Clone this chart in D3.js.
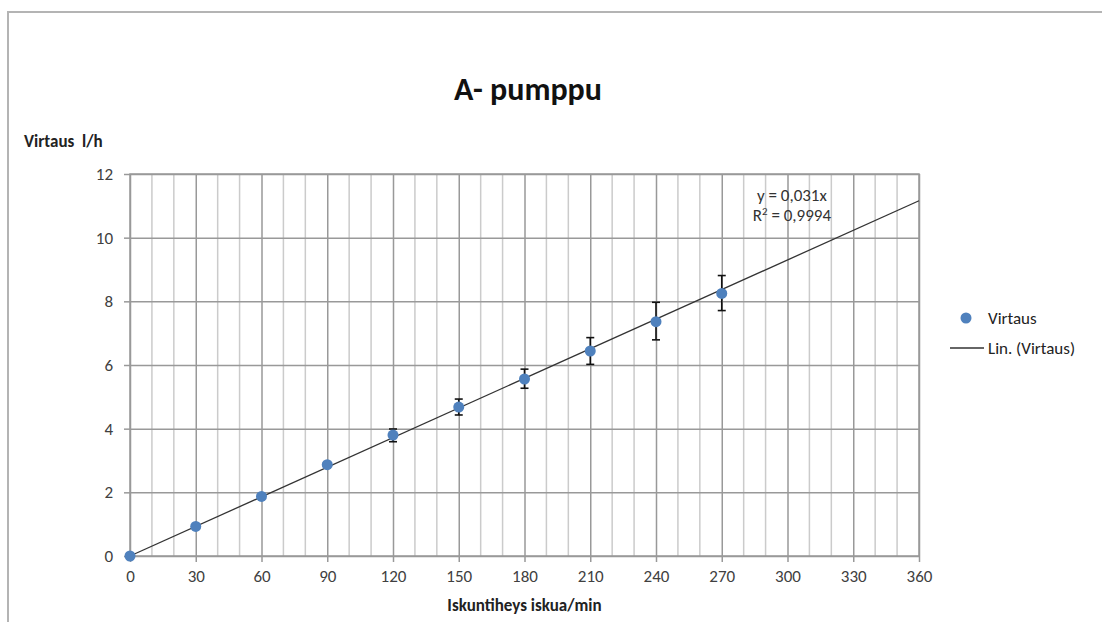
<!DOCTYPE html>
<html lang="fi">
<head>
<meta charset="UTF-8">
<title>A- pumppu</title>
<script src="https://d3js.org/d3.v7.min.js"></script>
<style>
  body { margin: 0; background: #fff; }
  svg text { font-family: Carlito, "Open Sans", "Liberation Sans", sans-serif; white-space: pre; }
  .tick text { fill: #404040; font-size: 17px; }
  .axis-label { font-weight: bold; font-size: 17px; fill: #222; }
</style>
</head>
<body>
<svg width="1102" height="622"></svg>
<script>
// data
var strokes = [0, 30, 60, 90, 120, 150, 180, 210, 240, 270];
var flow = [0, 0.93, 1.87, 2.87, 3.80, 4.68, 5.56, 6.44, 7.36, 8.25];
var errLow = [0, 0, 0, 0, 3.59, 4.43, 5.27, 6.02, 6.79, 7.71];
var errHigh = [0, 0, 0, 0, 3.99, 4.93, 5.87, 6.86, 7.97, 8.81];
var xTicks = [0, 30, 60, 90, 120, 150, 180, 210, 240, 270, 300, 330, 360];
var yTicks = [0, 2, 4, 6, 8, 10, 12];
var slope = 0.031;
var r2 = '0,9994';

var svg = d3.select('svg');
var margin = { left: 130, top: 174, right: 183, bottom: 66 };
var innerWidth = 1102 - margin.left - margin.right;
var innerHeight = 622 - margin.top - margin.bottom;

// outer chart frame
svg.append('path')
    .attr('d', 'M8,622 V12 H1102')
    .attr('fill', 'none')
    .attr('stroke', '#b4b4b4')
    .attr('stroke-width', 2);

svg.append('text')
    .attr('x', 528).attr('y', 100)
    .attr('text-anchor', 'middle')
    .style('font-weight', 'bold')
    .style('font-size', '32px')
    .attr('fill', '#111')
    .text('A- pumppu');

var g = svg.append('g')
    .attr('transform', `translate(${margin.left},${margin.top})`);

var x = d3.scaleLinear().domain([0, 360]).range([0, innerWidth]);
var y = d3.scaleLinear().domain([0, 12]).range([innerHeight, 0]);

// minor vertical grid every 10
g.append('g').selectAll('line')
    .data(d3.range(10, 360, 10).filter(d => d % 30 !== 0))
    .enter().append('line')
    .attr('x1', d => x(d)).attr('x2', d => x(d))
    .attr('y1', 0).attr('y2', innerHeight)
    .attr('stroke', '#cbcbcb').attr('stroke-width', 1.5);

var xAxis = d3.axisBottom(x).tickValues(xTicks).tickSize(-innerHeight).tickPadding(13);
var yAxis = d3.axisLeft(y).tickValues(yTicks).tickSize(-innerWidth).tickPadding(17);

var xAxisG = g.append('g').attr('transform', `translate(0,${innerHeight})`).call(xAxis);
var yAxisG = g.append('g').call(yAxis);

[xAxisG, yAxisG].forEach(a => {
    a.select('.domain').remove();
    a.selectAll('.tick line').attr('stroke', '#999').attr('stroke-width', 1.5);
});
// small outer tick marks
xAxisG.selectAll('.tick').append('line')
    .attr('y1', 0).attr('y2', 6).attr('stroke', '#999').attr('stroke-width', 1.5);
yAxisG.selectAll('.tick').append('line')
    .attr('x1', 0).attr('x2', -6).attr('stroke', '#999').attr('stroke-width', 1.5);
xAxisG.selectAll('.tick text').attr('dy', '0.75em');

// plot frame
g.append('rect')
    .attr('width', innerWidth).attr('height', innerHeight)
    .attr('fill', 'none').attr('stroke', '#999').attr('stroke-width', 1.5);

// trend line
g.append('line')
    .attr('x1', x(0)).attr('y1', y(0))
    .attr('x2', x(360)).attr('y2', y(slope * 360))
    .attr('stroke', '#333').attr('stroke-width', 1.3);

var data = strokes.map((s, i) => ({ x: s, y: flow[i], lo: errLow[i], hi: errHigh[i] }));

// error bars
var eb = g.selectAll('.err').data(data.filter(d => d.hi > 0)).enter().append('g')
    .attr('stroke', '#111').attr('stroke-width', 1.6);
eb.append('line')
    .attr('x1', d => x(d.x)).attr('x2', d => x(d.x))
    .attr('y1', d => y(d.lo)).attr('y2', d => y(d.hi));
eb.append('line')
    .attr('x1', d => x(d.x) - 4).attr('x2', d => x(d.x) + 4)
    .attr('y1', d => y(d.lo)).attr('y2', d => y(d.lo));
eb.append('line')
    .attr('x1', d => x(d.x) - 4).attr('x2', d => x(d.x) + 4)
    .attr('y1', d => y(d.hi)).attr('y2', d => y(d.hi));

g.selectAll('circle').data(data).enter().append('circle')
    .attr('cx', d => x(d.x)).attr('cy', d => y(d.y))
    .attr('r', 5.5)
    .attr('fill', '#4f81bd');

// trend equation
var eqX = x(302);
var eq = g.append('text')
    .attr('x', eqX).attr('y', y(11.15))
    .attr('text-anchor', 'middle')
    .style('font-size', '17px').attr('fill', '#333');
eq.append('tspan').attr('x', eqX).text('y = 0,031x');
var r2t = eq.append('tspan').attr('x', eqX).attr('dy', 20).text('R');
r2t.append('tspan').attr('font-size', '11px').attr('dy', -6).text('2');
eq.append('tspan').attr('dy', 6).text(' = ' + r2);

// axis titles
svg.append('text').attr('class', 'axis-label')
    .attr('x', 24).attr('y', 147).text('Virtaus  l/h');
svg.append('text').attr('class', 'axis-label')
    .attr('x', margin.left + innerWidth / 2).attr('y', 611)
    .attr('text-anchor', 'middle').text('Iskuntiheys iskua/min');

// legend
var lg = svg.append('g').attr('transform', 'translate(950,318)');
lg.append('circle').attr('cx', 16).attr('cy', 0).attr('r', 5.5).attr('fill', '#4f81bd');
lg.append('text').attr('x', 38).attr('y', 6).style('font-size', '17px').attr('fill', '#222').text('Virtaus');
lg.append('line').attr('x1', 0).attr('x2', 34).attr('y1', 30).attr('y2', 30)
    .attr('stroke', '#333').attr('stroke-width', 1.3);
lg.append('text').attr('x', 38).attr('y', 36).style('font-size', '17px').attr('fill', '#222').text('Lin. (Virtaus)');
</script>
</body>
</html>
